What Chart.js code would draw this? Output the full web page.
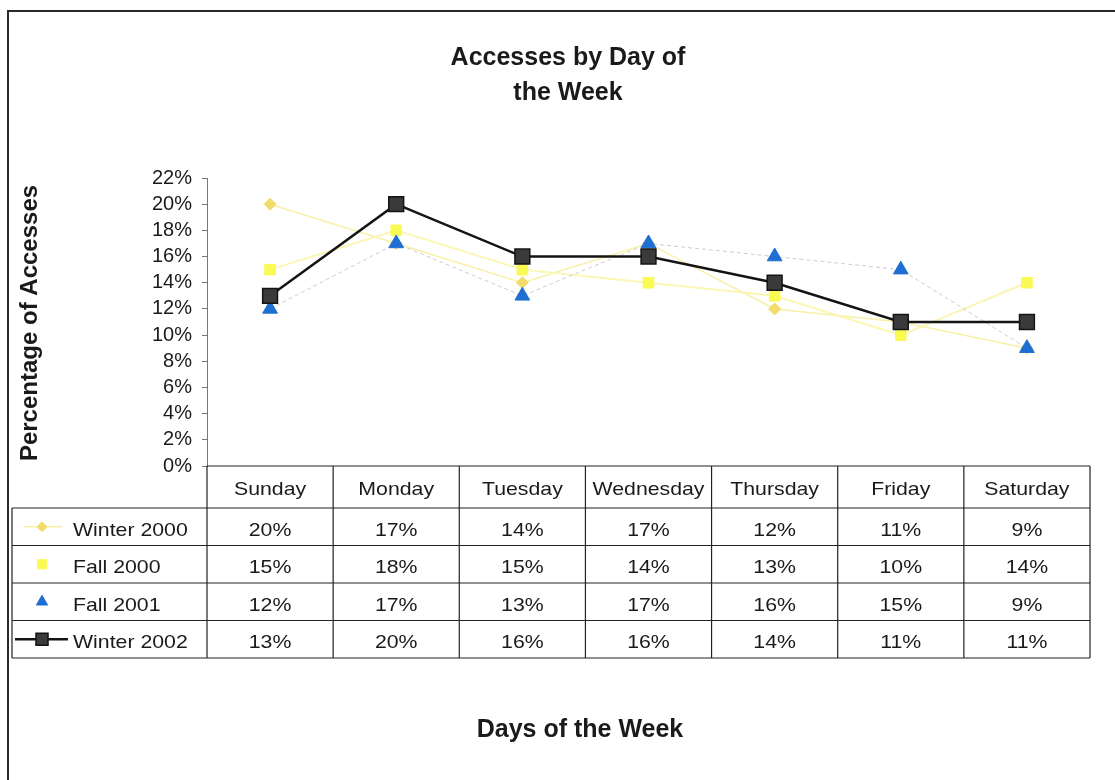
<!DOCTYPE html>
<html>
<head>
<meta charset="utf-8">
<title>Accesses by Day of the Week</title>
<script src="https://cdn.jsdelivr.net/npm/chart.js@4/dist/chart.umd.min.js"></script>
<style>
  html, body { margin: 0; padding: 0; background: #fff; }
  canvas { display: block; }
</style>
</head>
<body>
<canvas id="access-chart" width="1115" height="780"></canvas>
<script>
const days = ["Sunday", "Monday", "Tuesday", "Wednesday", "Thursday", "Friday", "Saturday"];
const winter2000 = [20, 17, 14, 17, 12, 11, 9];
const fall2000 = [15, 18, 15, 14, 13, 10, 14];
const fall2001 = [12, 17, 13, 17, 16, 15, 9];
const winter2002 = [13, 20, 16, 16, 14, 11, 11];
const yTicks = [0, 2, 4, 6, 8, 10, 12, 14, 16, 18, 20, 22];

const FONT = "'Liberation Sans', Arial, sans-serif";

// higher order is drawn first, so Winter 2002 ends up on top
const datasets = [
  {
    label: "Winter 2000", data: winter2000, order: 3,
    borderColor: "#f8f0a8", borderWidth: 1.5,
    pointStyle: "rectRot", pointRadius: 6,
    pointBackgroundColor: "#f2dc6c", pointBorderColor: "#f2dc6c", pointBorderWidth: 1
  },
  {
    label: "Fall 2000", data: fall2000, order: 2,
    borderColor: "#fbf6b4", borderWidth: 2,
    pointStyle: "rect", pointRadius: 7.5,
    pointBackgroundColor: "#fafa55", pointBorderColor: "#fafa55", pointBorderWidth: 1
  },
  {
    label: "Fall 2001", data: fall2001, order: 1,
    borderColor: "#cdcdcd", borderWidth: 1, borderDash: [4, 3],
    pointStyle: "triangle", pointRadius: 8.5,
    pointBackgroundColor: "#1f6fd2", pointBorderColor: "#1f6fd2", pointBorderWidth: 1
  },
  {
    label: "Winter 2002", data: winter2002, order: 0,
    borderColor: "#141414", borderWidth: 2.5,
    pointStyle: "rect", pointRadius: 10.5,
    pointBackgroundColor: "#3a3a3a", pointBorderColor: "#141414", pointBorderWidth: 1.5
  }
];

// text a little wider than the font's own proportions
function wideText(ctx, text, x, y, sx) {
  ctx.save();
  ctx.translate(x, y);
  ctx.scale(sx, 1);
  ctx.fillText(text, 0, 0);
  ctx.restore();
}

// titles, frame and the data table under the plot
const tablePlugin = {
  id: "dataTable",
  afterDraw(chart) {
    const ctx = chart.ctx;
    const area = chart.chartArea;
    const xs = chart.scales.x;
    const step = xs.getPixelForValue(1) - xs.getPixelForValue(0);
    const tableLeft = 12;
    const headerH = 42;
    const rowH = 37.5;
    const top = area.bottom;
    const rowTops = [top, top + headerH];
    for (let i = 1; i <= datasets.length; i++) rowTops.push(top + headerH + rowH * i);
    const bottom = rowTops[rowTops.length - 1];

    ctx.save();

    // outer frame
    ctx.strokeStyle = "#2a2a2a";
    ctx.lineWidth = 2;
    ctx.beginPath();
    ctx.moveTo(8, chart.height + 5);
    ctx.lineTo(8, 11);
    ctx.lineTo(chart.width + 5, 11);
    ctx.stroke();

    // chart title and x axis title
    ctx.fillStyle = "#1a1a1a";
    ctx.textAlign = "center";
    ctx.textBaseline = "middle";
    ctx.font = "bold 25px " + FONT;
    ctx.fillText("Accesses by Day of", 568, 58);
    ctx.fillText("the Week", 568, 93);
    ctx.fillText("Days of the Week", 580, 730);

    // y axis title
    ctx.save();
    ctx.font = "bold 24px " + FONT;
    ctx.translate(30, (area.top + area.bottom) / 2 + 1);
    ctx.rotate(-Math.PI / 2);
    ctx.fillText("Percentage of Accesses", 0, 0);
    ctx.restore();

    // table grid
    ctx.strokeStyle = "#222";
    ctx.lineWidth = 1.2;
    ctx.beginPath();
    ctx.moveTo(area.left, top);
    ctx.lineTo(area.right, top);
    for (let r = 1; r < rowTops.length; r++) {
      ctx.moveTo(tableLeft, rowTops[r]);
      ctx.lineTo(area.right, rowTops[r]);
    }
    ctx.moveTo(tableLeft, rowTops[1]);
    ctx.lineTo(tableLeft, bottom);
    for (let c = 0; c <= days.length; c++) {
      const x = area.left + step * c;
      ctx.moveTo(x, top);
      ctx.lineTo(x, bottom);
    }
    ctx.stroke();

    // header + cells
    ctx.font = "19px " + FONT;
    ctx.fillStyle = "#1a1a1a";
    ctx.textAlign = "center";
    days.forEach((d, i) => {
      wideText(ctx, d, xs.getPixelForValue(i), top + headerH / 2 + 3, 1.12);
    });
    datasets.forEach((ds, r) => {
      const cy = rowTops[r + 1] + rowH / 2 + 4;
      ds.data.forEach((v, i) => {
        wideText(ctx, v + "%", xs.getPixelForValue(i), cy, 1.12);
      });
    });

    // legend keys in the first column
    ctx.textAlign = "left";
    datasets.forEach((ds, r) => {
      const cy = rowTops[r + 1] + rowH / 2;
      const kx = 42;
      ctx.fillStyle = "#1a1a1a";
      wideText(ctx, ds.label, 73, cy + 4, 1.12);
      if (r === 0 || r === 3) {
        ctx.strokeStyle = ds.borderColor;
        ctx.lineWidth = ds.borderWidth;
        ctx.beginPath();
        ctx.moveTo(r === 3 ? 15 : 24, cy);
        ctx.lineTo(r === 3 ? 68 : 62, cy);
        ctx.stroke();
      }
      ctx.fillStyle = ds.pointBackgroundColor;
      ctx.strokeStyle = ds.pointBorderColor;
      ctx.lineWidth = ds.pointBorderWidth;
      const rad = r === 0 ? 5 : (r === 3 ? 8.5 : 6.5);
      Chart.helpers.drawPoint(ctx, {
        pointStyle: ds.pointStyle, radius: rad, rotation: 0, borderWidth: ds.pointBorderWidth
      }, kx, cy);
    });

    ctx.restore();
  }
};

new Chart(document.getElementById("access-chart"), {
  type: "line",
  data: { labels: days, datasets: datasets },
  options: {
    responsive: false,
    animation: false,
    layout: { padding: { top: 178, right: 25, bottom: 314, left: 0 } },
    plugins: {
      legend: { display: false },
      tooltip: { enabled: false },
      title: { display: false }
    },
    scales: {
      x: {
        display: false,
        offset: true
      },
      y: {
        min: 0,
        max: 22,
        afterFit(scale) { scale.width = 207; },
        afterBuildTicks(scale) { scale.ticks = yTicks.map(v => ({ value: v })); },
        border: { display: true, color: "#777", width: 1 },
        grid: { drawOnChartArea: false, drawTicks: true, tickLength: 5, color: "#777" },
        ticks: {
          autoSkip: false,
          padding: 10,
          color: "#1a1a1a",
          font: { family: FONT, size: 20 },
          callback: v => v + "%"
        }
      }
    }
  },
  plugins: [tablePlugin]
});
</script>
</body>
</html>
